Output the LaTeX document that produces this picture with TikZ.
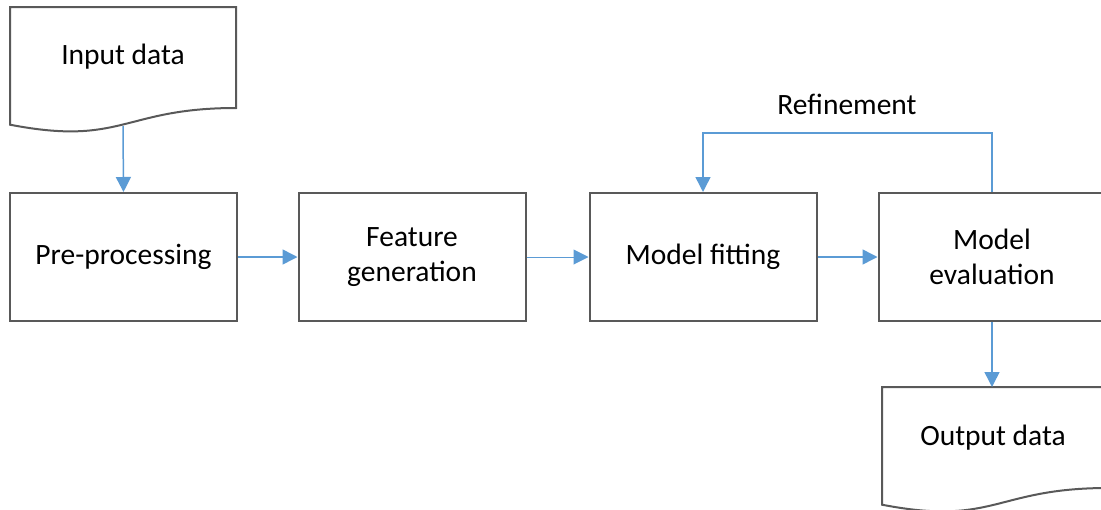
\documentclass[tikz,border=0pt]{standalone}
\usepackage{fontspec}
\setmainfont{Carlito}
\usetikzlibrary{arrows.meta}
\definecolor{boxgray}{HTML}{595959}
\definecolor{arrblue}{HTML}{5B9BD5}
\tikzset{
  box/.style={draw=boxgray, line width=2pt, minimum width=227pt, minimum height=128pt, inner sep=0pt, align=center, font=\fontsize{29.5}{35}\selectfont},
  doc/.style={draw=boxgray, line width=2pt},
  lbl/.style={font=\fontsize{29.5}{35}\selectfont, inner sep=0pt},
  arr/.style={draw=arrblue, line width=1.5pt, -{Triangle[width=15pt,length=15pt]}},
  conn/.style={draw=arrblue, line width=1.5pt}
}
\begin{document}
\begin{tikzpicture}[x=1pt,y=-1pt]
\useasboundingbox (0,0) rectangle (1101,509);
\clip (0,0) rectangle (1101,509);
% input document
\draw[doc] (10,7) -- (236,7) -- (236,108) .. controls (123,108) and (123,146.5) .. (10,124.7) -- cycle;
\node[lbl] (in) at (123,57) {Input data};
\coordinate (inb) at (123,126);
% process boxes
\node[box] (pre) at (123.5,257) {Pre-processing};
\node[box] (feat) at (412,257) {Feature\\generation};
\node[box] (fit) at (703,257) {Model fitting};
\node[box] (eval) at (992,257) {Model\\evaluation};
% output document
\draw[doc] (882,387) -- (1108,387) -- (1108,488) .. controls (995,488) and (995,526.5) .. (882,504.7) -- cycle;
\node[lbl] (out) at (993,438) {Output data};
\coordinate (outt) at (992,387);
% refinement label
\node[lbl] (ref) at (847,104) {Refinement};
% connectors
\draw[arr] (inb) -- (pre.north);
\draw[arr] (pre.east) -- (feat.west);
\draw[arr, line width=1pt] (feat.east) -- (fit.west);
\draw[arr] (fit.east) -- (eval.west);
\draw[arr] (eval.south) -- (outt);
\draw[arr] (eval.north) -- ++(0,-59) -| (fit.north);
\end{tikzpicture}
\end{document}
